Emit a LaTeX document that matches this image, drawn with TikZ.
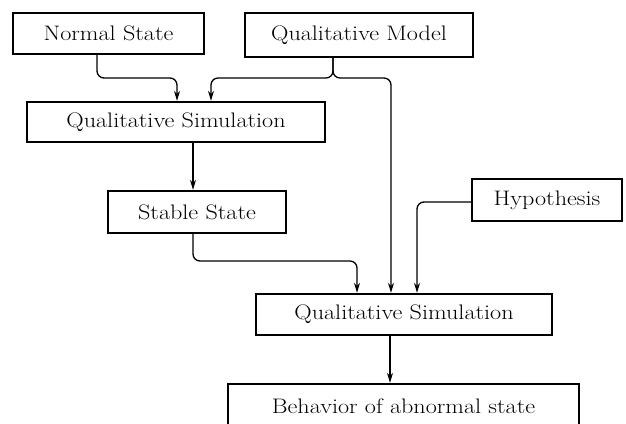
\documentclass[tikz,border=0pt]{standalone}
\usepackage{graphicx}
\usetikzlibrary{arrows.meta,calc}
\newcommand{\wtxt}[1]{\scalebox{1.15}[1]{#1}}
\begin{document}
\begin{tikzpicture}[x=1pt,y=-1pt,
  blk/.style={draw,line width=2.4pt,inner sep=0pt,font=\fontsize{21}{25}\selectfont},
  con/.style={line width=1.3pt,rounded corners=7pt},
  arr/.style={con,-{Stealth[length=10pt,width=6pt]}}]
\clip (0,0) rectangle (626,423);
\useasboundingbox (0,0) rectangle (626,423);
\node[blk,minimum width=191pt,minimum height=41pt] (ns) at (108.5,33.5) {\wtxt{Normal State}};
\node[blk,minimum width=228pt,minimum height=44pt] (qm) at (359,35) {\wtxt{Qualitative Model}};
\node[blk,minimum width=298pt,minimum height=40pt] (qs1) at (176,122) {\wtxt{Qualitative Simulation}};
\node[blk,minimum width=178pt,minimum height=42pt] (ss) at (197,212) {\wtxt{Stable State}};
\node[blk,minimum width=150pt,minimum height=42pt] (hy) at (547,200) {\wtxt{Hypothesis}};
\node[blk,minimum width=296pt,minimum height=41pt] (qs2) at (404,314.5) {\wtxt{Qualitative Simulation}};
\node[blk,minimum width=351pt,minimum height=44pt] (bh) at (403.5,406) {\wtxt{Behavior of abnormal state}};
% connectors
\coordinate (j1) at (97,78);
\coordinate (j2) at (333,78);
\coordinate (j3) at (193,261);
\draw[arr] (ns.south -| j1) -- (j1) -- (j1 -| 177,0) -- (qs1.north -| 177,0);
\draw[arr] (qm.south -| j2) -- (j2) -- (j2 -| 211,0) -- (qs1.north -| 211,0);
\draw[arr] (qm.south -| j2) -- (j2) -- (j2 -| 391,0) -- (qs2.north -| 391,0);
\draw[arr] (qs1.south -| 193,0) -- (ss.north -| 193,0);
\draw[arr] (ss.south -| j3) -- (j3) -- (j3 -| 357,0) -- (qs2.north -| 357,0);
\draw[arr] (hy.west |- 0,202) -- (417,202) -- (qs2.north -| 417,0);
\draw[arr] (qs2.south -| 390,0) -- (bh.north -| 390,0);
\end{tikzpicture}
\end{document}
